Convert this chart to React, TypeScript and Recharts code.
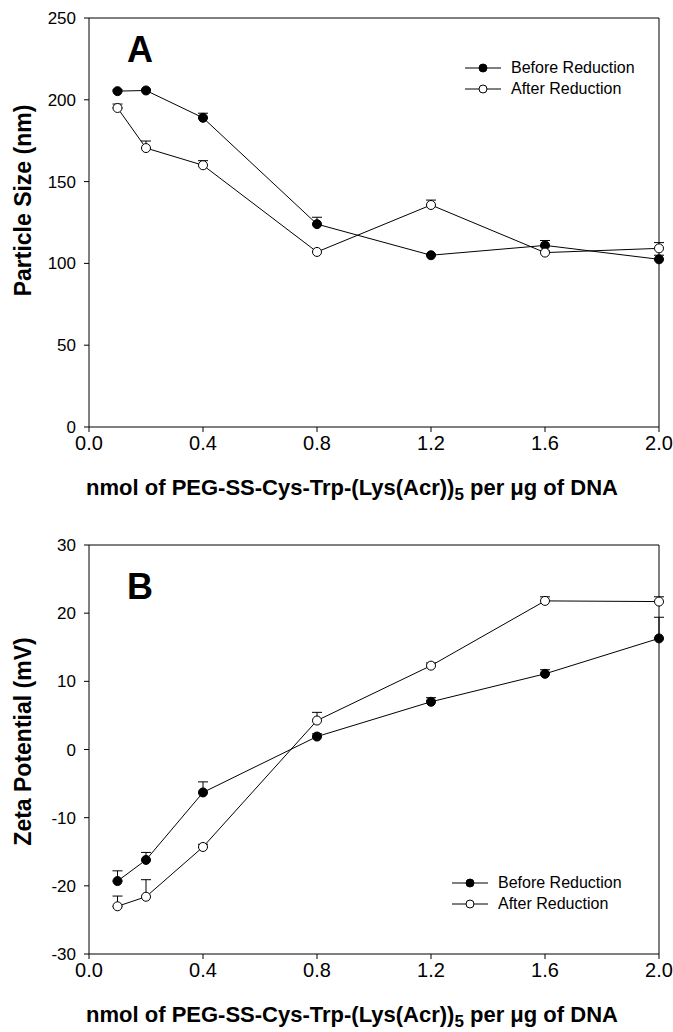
import React from "react"
import { ErrorBar, Legend, Line, LineChart, ReferenceLine, XAxis, YAxis } from "recharts"

const doses = [0.1, 0.2, 0.4, 0.8, 1.2, 1.6, 2.0]

const sizeBefore = [205.3, 205.7, 189, 124, 105, 111, 102.5]
const sizeBeforeErr = [0.8, 0.8, 2.8, 4.2, 0.8, 3, 2.5]
const sizeAfter = [195, 170.5, 160, 107, 135.7, 106.6, 109.2]
const sizeAfterErr = [2.4, 4.3, 2.8, 0.5, 3, 1, 3.5]

const zetaBefore = [-19.3, -16.2, -6.3, 1.9, 7.0, 11.1, 16.3]
const zetaBeforeErr = [1.5, 1.1, 1.55, 0.4, 0.6, 0.6, 3.1]
const zetaAfter = [-23.0, -21.6, -14.3, 4.25, 12.3, 21.8, 21.7]
const zetaAfterErr = [1.5, 2.5, 0.4, 1.2, 0.4, 0.6, 0.7]

const xTicks = [0, 0.4, 0.8, 1.2, 1.6, 2.0]
const sizeTicks = [0, 50, 100, 150, 200, 250]
const zetaTicks = [-30, -20, -10, 0, 10, 20, 30]
const seriesNames = ["Before Reduction", "After Reduction"]

const FONT = "'Liberation Sans', Arial, Helvetica, sans-serif"

function buildRows(before: number[], beforeErr: number[], after: number[], afterErr: number[]) {
  return doses.map((d, i) => ({
    dose: d,
    before: before[i],
    beforeErr: [0, beforeErr[i]],
    after: after[i],
    afterErr: [0, afterErr[i]],
  }))
}

const sizeData = buildRows(sizeBefore, sizeBeforeErr, sizeAfter, sizeAfterErr)
const zetaData = buildRows(zetaBefore, zetaBeforeErr, zetaAfter, zetaAfterErr)

function XTick(props: any) {
  const { x, y, payload } = props
  return (
    <text x={x} y={y} dy="0.71em" textAnchor="middle" fontFamily={FONT} fontSize={20} fill="#000">
      {Number(payload.value).toFixed(1)}
    </text>
  )
}

function YTick(props: any) {
  const { x, y, payload } = props
  return (
    <text x={x} y={y} dy="0.355em" textAnchor="end" fontFamily={FONT} fontSize={17} fill="#000">
      {payload.value}
    </text>
  )
}

function LegendBox() {
  return (
    <div style={{ fontFamily: FONT, fontSize: 16, color: "#000", whiteSpace: "nowrap" }}>
      {seriesNames.map((name, i) => (
        <div key={name} style={{ display: "flex", alignItems: "center", height: 21 }}>
          <svg width={36} height={10}>
            <line x1={0} y1={5} x2={36} y2={5} stroke="#000" strokeWidth={1} />
            <circle cx={18} cy={5} r={4} fill={i === 0 ? "#000" : "#fff"} stroke="#000" strokeWidth={1} />
          </svg>
          <span style={{ marginLeft: 10 }}>{name}</span>
        </div>
      ))}
    </div>
  )
}

function XTitle(props: any) {
  const vb = props.viewBox
  return (
    <text
      x={vb.x + vb.width / 2 - 22}
      y={vb.y + 68}
      textAnchor="middle"
      fontFamily={FONT}
      fontWeight="bold"
      fontSize={22}
      fill="#000"
    >
      <tspan>nmol of PEG-SS-Cys-Trp-(Lys(Acr))</tspan>
      <tspan dy={5} fontSize={17}>5</tspan>
      <tspan dy={-5}> per μg of DNA</tspan>
    </text>
  )
}

function makeYTitle(title: string, shift: number) {
  return (props: any) => {
    const vb = props.viewBox
    const x = vb.x + 2
    const y = vb.y + vb.height / 2 + shift
    return (
      <text
        x={x}
        y={y}
        transform={`rotate(-90, ${x}, ${y})`}
        textAnchor="middle"
        fontFamily={FONT}
        fontWeight="bold"
        fontSize={23}
        fill="#000"
      >
        {title}
      </text>
    )
  }
}

interface PanelProps {
  top: number
  data: any[]
  yDomain: [number, number]
  yTicks: number[]
  yTitle: string
  titleShift: number
  letter: string
  letterTop: number
  legendLeft: number
  legendTop: number
}

function Panel({ top, data, yDomain, yTicks, yTitle, titleShift, letter, letterTop, legendLeft, legendTop }: PanelProps) {
  return (
    <div style={{ position: "absolute", left: 0, top }}>
      <LineChart width={673} height={505} data={data} margin={{ top: 18, right: 14, bottom: 48, left: 29 }}>
        <XAxis
          dataKey="dose"
          type="number"
          domain={[0, 2]}
          ticks={xTicks}
          tick={<XTick />}
          tickSize={5}
          tickMargin={4}
          height={30}
          axisLine={{ stroke: "#000" }}
          tickLine={{ stroke: "#000" }}
          label={{ content: XTitle }}
        />
        <YAxis
          type="number"
          domain={yDomain}
          ticks={yTicks}
          tick={<YTick />}
          tickSize={5}
          tickMargin={8}
          width={60}
          axisLine={{ stroke: "#000" }}
          tickLine={{ stroke: "#000" }}
          label={{ content: makeYTitle(yTitle, titleShift) }}
        />
        <ReferenceLine y={yDomain[1]} stroke="#000" strokeWidth={1} />
        <ReferenceLine x={2} stroke="#000" strokeWidth={1} />
        <Line
          type="linear"
          dataKey="before"
          name={seriesNames[0]}
          stroke="#000"
          strokeWidth={1}
          dot={{ r: 4.5, fill: "#000", stroke: "#000", strokeWidth: 1 }}
          isAnimationActive={false}
        >
          <ErrorBar dataKey="beforeErr" width={5} stroke="#000" strokeWidth={1} direction="y" />
        </Line>
        <Line
          type="linear"
          dataKey="after"
          name={seriesNames[1]}
          stroke="#000"
          strokeWidth={1}
          dot={{ r: 4.5, fill: "#fff", stroke: "#000", strokeWidth: 1 }}
          isAnimationActive={false}
        >
          <ErrorBar dataKey="afterErr" width={5} stroke="#000" strokeWidth={1} direction="y" />
        </Line>
        <Legend
          layout="vertical"
          align="center"
          verticalAlign="middle"
          content={<LegendBox />}
          wrapperStyle={{ left: legendLeft, top: legendTop, width: "auto", height: "auto" }}
        />
      </LineChart>
      <div
        style={{
          position: "absolute",
          left: 127,
          top: letterTop,
          fontFamily: FONT,
          fontWeight: "bold",
          fontSize: 36,
          lineHeight: "36px",
          color: "#000",
        }}
      >
        {letter}
      </div>
    </div>
  )
}

export default function App() {
  return (
    <div style={{ position: "absolute", left: 0, top: 0, width: 673, height: 1032, background: "#fff" }}>
      <Panel
        top={0}
        data={sizeData}
        yDomain={[0, 250]}
        yTicks={sizeTicks}
        yTitle="Particle Size (nm)"
        titleShift={-22}
        letter="A"
        letterTop={32}
        legendLeft={465}
        legendTop={57}
      />
      <Panel
        top={527}
        data={zetaData}
        yDomain={[-30, 30]}
        yTicks={zetaTicks}
        yTitle="Zeta Potential (mV)"
        titleShift={-8}
        letter="B"
        letterTop={42}
        legendLeft={452}
        legendTop={345}
      />
    </div>
  )
}
